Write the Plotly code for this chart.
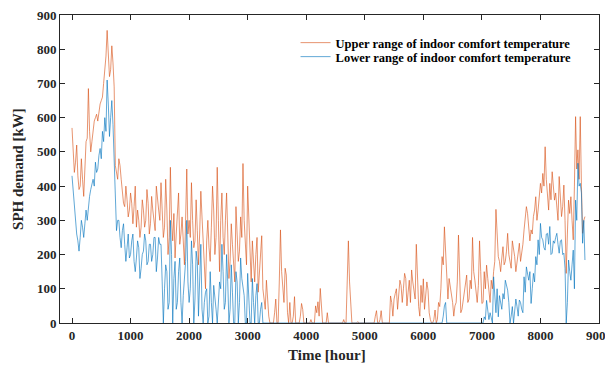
import plotly.graph_objects as go

# Time axis: readings every 40 h (0 ... 8760) plus in-between readings at +20 h
hours_main = list(range(0, 8761, 40))
hours_mid = list(range(20, 8741, 40))

upper_kw = [
    570, 440, 520, 390, 480, 370, 530, 685, 500, 560, 600, 590, 640, 660, 740, 855, 720, 810, 690, 440,
    480, 420, 350, 400, 310, 380, 290, 400,
    330, 250, 360, 280, 390, 260, 370, 300, 400, 330, 410, 250, 420, 200, 455, 240, 190, 330, 230, 310,
    170, 450, 300, 410, 220, 360, 170, 385, 250, 100, 300, 180, 400, 200, 455, 150,
    380, 200, 380, 130, 290, 150, 340, 180, 310, 466, 220, 400, 210, 240, 120, 250, 140, 255, 60, 125,
    20, 0, 0, 70, 0, 272, 100, 160, 30, 60, 0, 77,
    0, 0, 57, 0, 0, 0, 10, 0, 50, 62, 101, 0, 0, 30, 0, 0, 0, 0, 0, 0,
    10, 0, 240, 57, 0, 0, 4, 0, 0, 0, 0, 0, 0, 0, 36, 0, 36, 0, 0, 0,
    79, 20, 86, 40, 125, 60,
    145, 50, 125, 155, 96, 230, 48, 110, 129, 86, 96, 10, 0, 38, 10, 48, 194, 281, 140, 130,
    86, 20, 60, 257, 30, 67, 116, 60, 125, 250, 125, 60, 240, 57, 150, 169, 90, 125, 150, 332,
    194, 150, 223, 180, 262, 174, 240, 194,
    174, 233, 204, 272, 340, 282, 272, 311, 369, 330, 408, 437, 515, 360, 408, 442, 359, 330, 428, 311,
    403, 145, 359, 369, 243, 603, 506, 603, 262, 311,
]

upper_kw_mid = [
    500, 470, 430, 400, 420, 450, 540, 560, 530, 590, 610, 620, 650, 700, 780, 760, 740, 760, 460, 420,
    460, 380, 340, 360, 330, 350, 340,
    280, 300, 280, 330, 300, 350, 290, 330, 270, 350, 300, 330, 280, 330, 250, 300, 320, 260, 380, 260,
    230, 300, 260, 250, 300, 240, 270, 260, 310, 160, 240, 220, 280, 330, 250, 300,
    300, 250, 300, 260, 180, 230, 120, 260, 210, 250, 300, 170, 300, 120, 180, 200, 90, 180, 100, 40,
    60, 0, 0, 30, 0, 120, 150, 60, 140, 0, 0, 20,
    0, 0, 20, 40, 0, 0, 0, 0, 0, 30, 20, 50, 0, 0, 0, 0, 0, 0, 0, 0,
    0, 0, 100, 120, 0, 0, 0, 0, 0, 0, 0, 0, 0, 0, 20, 0, 10, 0, 0, 0,
    0, 60, 70, 100, 80, 110,
    100, 130, 90, 60, 120, 70, 110, 20, 60, 40, 120, 30, 0, 10, 0, 60, 100, 170, 210, 70,
    110, 60, 50, 120, 140, 40, 100, 140, 70, 100, 150, 90, 110, 150, 60, 100, 130, 60, 100, 180,
    240, 180, 190, 170, 210, 200, 160, 220,
    150, 200, 180, 230, 300, 320, 240, 260, 330, 300, 360, 380, 400, 420, 330, 360, 400, 380, 300, 360,
    340, 300, 260, 320, 300, 400, 450, 420, 400, 300,
]

lower_kw = [
    430, 330, 260, 210, 300, 250, 330, 350, 390, 420, 470, 450, 510, 560, 600, 710, 545, 650, 450, 270,
    300, 220, 290, 180, 260, 200, 260, 150,
    240, 130, 200, 260, 170, 230, 180, 250, 150, 250, 230, 0, 170, 40, 300, 0, 180, 60, 190, 0,
    120, 300, 60, 240, 0, 210, 20, 230, 0, 90, 0, 150, 0, 80, 0, 120,
    230, 40, 200, 0, 170, 0, 150, 0, 190, 100, 0, 145, 0, 130, 0, 115, 0, 60, 0, 0,
    0, 0, 0, 0, 0, 0, 0, 0, 0, 0, 0, 0,
    0, 0, 0, 0, 0, 0, 0, 0, 0, 0, 0, 0, 0, 0, 0, 0, 0, 0, 0, 0,
    0, 0, 0, 0, 0, 0, 0, 0, 0, 0, 0, 0, 0, 0, 0, 0, 0, 0, 0, 0,
    0, 0, 0, 0, 0, 0,
    0, 0, 0, 0, 0, 0, 0, 0, 0, 0, 0, 0, 0, 0, 0, 0, 0, 50, 0, 0,
    0, 0, 0, 0, 0, 0, 0, 0, 0, 0, 0, 0, 0, 0, 18, 66, 10, 18, 135, 30,
    18, 60, 86, 125, 96, 0, 48, 30,
    48, 67, 40, 135, 164, 125, 57, 145, 194, 243, 291, 243, 213, 262, 282, 204, 233, 262, 204, 243,
    204, 0, 184, 125, 213, 359, 467, 408, 233, 184,
]

lower_kw_mid = [
    380, 290, 240, 250, 280, 290, 300, 370, 410, 400, 440, 490, 480, 530, 560, 640, 600, 580, 400, 300,
    250, 270, 230, 220, 190, 240, 180,
    190, 220, 160, 210, 240, 180, 230, 200, 250, 190, 230, 120, 100, 150, 60, 200, 130, 40, 150, 60,
    80, 180, 120, 100, 170, 70, 180, 120, 40, 60, 100, 20, 60, 110, 40, 60,
    100, 150, 60, 120, 40, 90, 0, 120, 60, 130, 80, 0, 90, 0, 60, 80, 0, 40, 0, 0,
    0, 0, 0, 0, 0, 0, 0, 0, 0, 0, 0, 0,
    0, 0, 0, 0, 0, 0, 0, 0, 0, 0, 0, 0, 0, 0, 0, 0, 0, 0, 0, 0,
    0, 0, 0, 0, 0, 0, 0, 0, 0, 0, 0, 0, 0, 0, 0, 0, 0, 0, 0, 0,
    0, 0, 0, 0, 0, 0,
    0, 0, 0, 0, 0, 0, 0, 0, 0, 0, 0, 0, 0, 0, 0, 0, 0, 20, 60, 0,
    0, 0, 0, 0, 0, 0, 0, 0, 0, 0, 0, 0, 0, 0, 0, 10, 40, 30, 0, 60,
    100, 80, 40, 70, 110, 60, 20, 0, 70,
    20, 60, 30, 90, 140, 150, 100, 120, 170, 200, 250, 220, 260, 230, 200, 240, 250, 230, 240, 200,
    160, 60, 150, 170, 100, 300, 400, 380, 300, 120,
]

x_ticks = [0, 1000, 2000, 3000, 4000, 5000, 6000, 7000, 8000, 9000]
y_ticks = [0, 100, 200, 300, 400, 500, 600, 700, 800, 900]


def merge(t_a, v_a, t_b, v_b):
    pts = sorted(list(zip(t_a, v_a)) + list(zip(t_b, v_b)))
    return [p[0] for p in pts], [p[1] for p in pts]


t_up, v_up = merge(hours_main, upper_kw, hours_mid, upper_kw_mid)
t_lo, v_lo = merge(hours_main, lower_kw, hours_mid, lower_kw_mid)

FONT = "Liberation Serif"
AX = "#262626"

fig = go.Figure()
fig.add_trace(go.Scatter(
    x=t_up, y=v_up, mode="lines",
    name="<b>Upper range of indoor comfort temperature</b>",
    line=dict(color="rgba(217,83,25,0.62)", width=1),
    legend="legend",
))
fig.add_trace(go.Scatter(
    x=t_lo, y=v_lo, mode="lines",
    name="<b>Lower range of indoor comfort temperature</b>",
    line=dict(color="rgba(0,114,189,0.62)", width=1),
    legend="legend2",
))

axis_common = dict(
    showline=True, linecolor=AX, linewidth=1, mirror="ticks",
    ticks="inside", ticklen=5, tickcolor=AX, tickwidth=1,
    showgrid=False, zeroline=False, automargin=False,
    ticklabeloverflow="allow",
    tickfont=dict(family=FONT, size=13, color=AX, weight="bold"),
)

leg_common = dict(xanchor="left", yanchor="middle", bgcolor="rgba(0,0,0,0)", borderwidth=0,
                  font=dict(family=FONT, size=12.5, color="black"))

# page has an 8 px body margin; figure is sized so the plot lands where the reference has it
fig.update_layout(
    width=605, height=361,
    margin=dict(l=52, r=14, t=7, b=46),
    paper_bgcolor="white", plot_bgcolor="white",
    font=dict(family=FONT, color=AX),
    xaxis=dict(range=[-205, 9000], tickvals=x_ticks, **axis_common),
    yaxis=dict(range=[0, 900], tickvals=y_ticks, **axis_common),
    legend=dict(x=0.437, y=(323 - 43) / 308, **leg_common),
    legend2=dict(x=0.437, y=(323 - 57) / 308, **leg_common),
    showlegend=True,
    annotations=[
        dict(text="<b>Time [hour]</b>", xref="paper", yref="paper", x=0.495, y=-0.104,
             xanchor="center", yanchor="middle", showarrow=False,
             font=dict(family=FONT, size=15, color=AX)),
        dict(text="<b>SPH demand [kW]</b>", xref="paper", yref="paper", x=-0.078, y=0.5,
             xanchor="center", yanchor="middle", textangle=-90, showarrow=False,
             font=dict(family=FONT, size=15, color=AX)),
    ],
)

fig.write_html("out.html")
